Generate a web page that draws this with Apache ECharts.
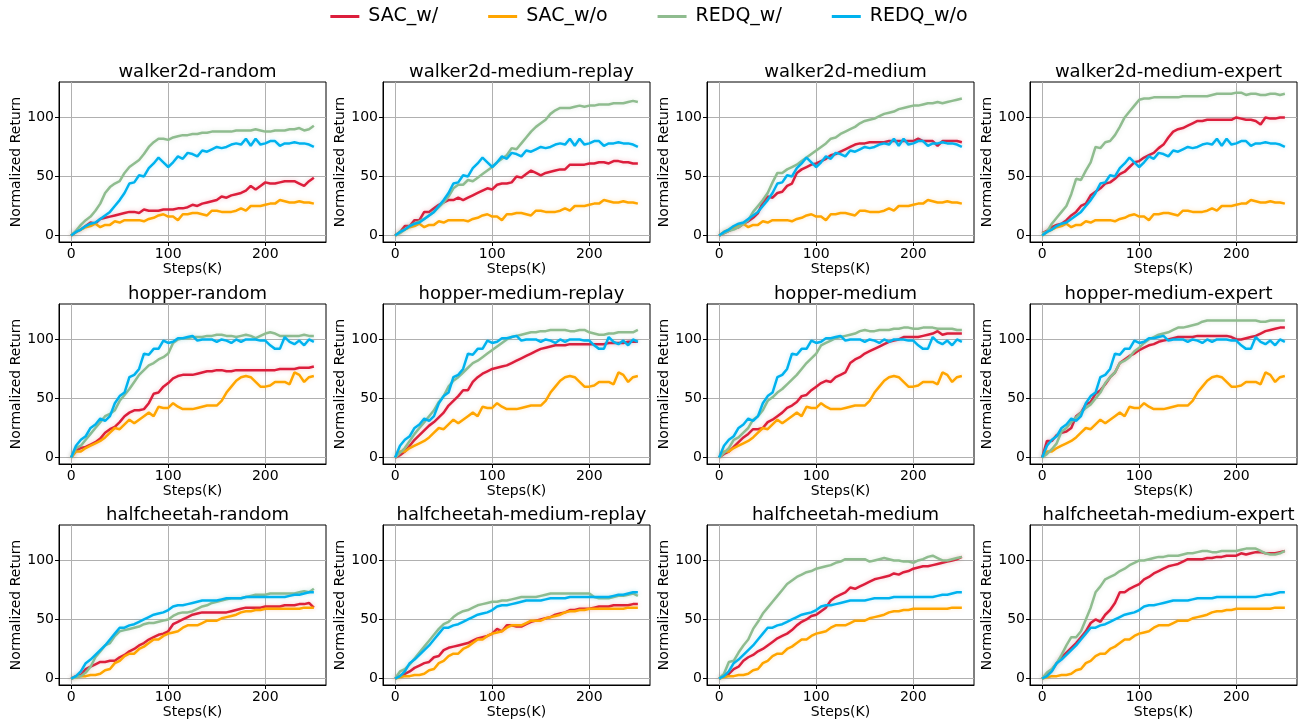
<!DOCTYPE html>
<html>
<head>
<meta charset="utf-8">
<script src="https://cdn.jsdelivr.net/npm/echarts@6/dist/echarts.min.js"></script>
<style>
html, body { margin: 0; background: #fff; }
#chart { width: 1298px; height: 724px; }
</style>
</head>
<body>
<div id="chart"></div>
<script>
// x positions in K steps
const steps = [0,5,10,15,20,25,30,35,40,45,50,55,60,65,70,75,80,85,90,95,100,105,110,115,120,125,130,135,140,145,150,155,160,165,170,175,180,185,190,195,200,205,210,215,220,225,230,235,240,245,250];

const seriesNames = ["SAC_w/", "SAC_w/o", "REDQ_w/", "REDQ_w/o"];
const panelTitles = [
    "walker2d-random", "walker2d-medium-replay", "walker2d-medium", "walker2d-medium-expert",
    "hopper-random", "hopper-medium-replay", "hopper-medium", "hopper-medium-expert",
    "halfcheetah-random", "halfcheetah-medium-replay", "halfcheetah-medium", "halfcheetah-medium-expert"
];
const xTicks = [0, 100, 200];
const yTicks = [0, 50, 100];

// runs without offline data are shared by every dataset of the same env
const walkerSACwo = [0,3,5,7,8,10,7,9,9,12,11,13,13,13,13,12,14,15,17,18,16,16,13,18,18,19,19,18,17,21,21,20,20,20,21,23,21,25,25,25,26,27,27,30,29,28,28,29,28,28,27];
const walkerREDQwo = [0,3,5,8,10,11,14,17,20,25,30,36,44,45,51,50,57,61,66,62,58,62,67,65,70,69,67,72,71,73,75,74,75,77,78,77,82,76,82,77,78,80,80,76,78,78,79,78,78,77,75];
const hopperSACwo = [0,5,5,8,10,12,14,17,21,25,24,28,32,29,32,35,38,35,43,42,42,46,43,41,41,41,42,43,44,44,44,48,55,60,65,68,69,68,64,60,60,61,64,64,64,62,72,70,64,68,69];
const hopperREDQwo = [0,10,15,18,25,28,33,31,35,46,52,55,68,70,75,88,87,92,92,99,97,98,101,101,102,103,99,100,100,100,98,100,99,97,100,98,100,100,100,99,99,95,92,92,102,98,96,99,95,100,98];
const cheetahSACwo = [0,1,2,2,3,3,4,7,8,13,15,19,21,21,25,27,30,33,33,36,38,39,40,43,45,45,45,47,49,49,49,51,52,53,54,56,57,57,58,58,59,59,59,59,59,59,59,59,60,60,60];
const cheetahREDQwo = [0,2,6,13,16,20,24,28,33,38,43,43,45,46,48,50,52,54,55,56,58,61,62,62,63,64,65,66,66,66,66,67,68,68,68,68,69,69,69,69,69,69,69,69,69,70,71,71,72,73,73];

// SAC_w/ per dataset
const walkerRandomSAC = [0,3,5,8,11,10,14,15,16,17,18,19,20,20,19,22,21,21,21,22,22,22,23,23,24,26,25,27,28,29,30,33,32,34,35,36,38,42,39,42,45,44,44,45,46,46,46,44,42,46,49];
const walkerReplaySAC = [0,3,8,8,13,13,20,20,23,26,28,30,30,32,30,32,34,36,38,40,39,43,44,44,45,50,49,52,55,53,51,53,54,55,56,56,60,60,60,60,61,61,62,62,61,63,63,62,62,61,61];
const walkerMediumSAC = [0,2,4,6,7,10,12,15,19,28,33,32,36,37,42,44,53,56,58,60,61,63,65,68,69,71,73,75,77,78,78,79,79,79,79,80,80,80,80,80,80,82,80,80,80,76,80,80,80,80,79];
const walkerExpertSAC = [2,4,7,9,10,13,17,20,25,27,34,37,40,44,45,48,52,54,58,62,63,66,68,70,74,77,83,88,90,91,93,95,97,97,98,98,98,98,98,98,100,99,98,98,97,94,100,99,99,100,100];
const hopperRandomSAC = [0,6,8,9,11,13,16,21,24,26,30,35,38,40,40,41,46,54,55,60,63,67,69,70,70,70,71,72,73,73,74,74,73,73,74,74,74,74,74,74,74,74,74,75,75,75,75,76,76,76,77];
const hopperReplaySAC = [0,2,5,10,15,19,23,27,30,34,38,44,48,52,57,57,64,68,71,73,75,76,77,78,80,82,84,86,88,90,92,93,94,95,95,95,96,96,96,96,96,96,96,96,97,97,97,97,98,98,98];
const hopperMediumSAC = [0,3,5,9,13,17,20,24,24,25,30,32,35,38,42,44,47,52,53,57,60,63,65,64,68,70,72,80,83,85,88,90,92,94,96,98,99,100,102,102,102,102,103,104,105,107,104,105,105,105,105];
const hopperExpertSAC = [0,14,14,19,21,22,25,35,38,45,47,54,57,62,68,72,80,83,86,88,91,93,95,96,98,99,100,101,102,102,102,102,103,103,103,103,103,103,103,102,100,100,101,102,103,105,107,108,109,110,110];
const cheetahRandomSAC = [0,2,3,8,10,12,14,14,15,15,18,20,23,25,28,30,33,35,37,38,40,46,48,50,52,54,55,56,56,56,56,56,56,57,58,59,60,60,60,60,61,61,61,61,62,62,62,63,63,64,60];
const cheetahReplaySAC = [0,2,4,6,9,11,13,14,18,19,24,26,27,28,29,30,32,34,35,36,38,42,40,45,45,44,44,46,48,49,50,51,52,54,55,56,58,58,59,59,59,60,61,61,61,62,62,62,62,63,63];
const cheetahMediumSAC = [0,2,4,8,10,15,18,20,23,25,28,31,34,36,38,41,45,48,50,53,54,57,60,66,69,71,73,77,76,78,80,82,84,85,86,87,89,88,90,91,93,94,95,95,96,97,98,99,100,101,103];
const cheetahExpertSAC = [0,3,7,13,18,22,26,30,35,40,47,50,48,54,58,64,73,73,76,78,80,84,86,89,91,93,95,96,97,99,101,101,101,101,102,102,103,103,104,104,104,106,105,106,107,107,106,106,106,107,108];

// REDQ_w/ per dataset
const walkerRandomREDQ = [0,4,9,13,16,21,27,36,41,44,46,53,58,61,64,69,75,79,82,82,81,83,84,85,85,86,86,87,87,88,88,88,88,88,89,89,89,89,90,89,88,88,89,89,89,90,90,91,89,90,93];
const walkerReplayREDQ = [0,2,5,8,10,12,14,17,20,24,28,33,40,43,43,47,46,49,52,55,58,62,65,68,74,73,78,83,88,92,95,98,103,106,108,108,108,109,110,109,110,110,111,111,111,112,112,112,113,114,113];
const walkerMediumREDQ = [0,2,4,5,7,10,13,20,25,30,36,45,53,53,56,58,60,63,66,69,72,75,78,82,83,86,88,90,92,95,97,98,99,101,103,104,105,107,108,109,110,110,111,112,112,113,112,113,114,115,116];
const walkerExpertREDQ = [2,3,10,15,20,25,35,48,47,55,62,75,74,79,80,85,92,100,105,110,115,116,116,117,117,117,117,117,117,118,118,118,118,118,118,119,120,120,120,120,121,121,119,120,120,119,119,120,120,119,120];
const hopperRandomREDQ = [0,8,10,15,20,25,30,35,37,40,48,53,58,64,70,74,78,80,83,85,88,97,100,101,101,102,102,102,103,103,104,104,103,103,102,103,104,103,101,103,105,106,105,103,103,103,103,103,104,103,103];
const hopperReplayREDQ = [0,4,8,14,20,25,30,35,40,47,52,60,65,68,72,76,80,82,85,88,91,94,97,100,102,103,104,105,106,106,107,107,108,108,108,108,107,107,108,108,106,105,104,104,105,105,106,106,106,106,108];
const hopperMediumREDQ = [0,4,8,15,17,21,25,32,35,40,48,51,55,58,62,66,70,75,80,84,88,95,97,99,101,102,103,104,105,107,108,107,107,108,108,108,109,109,110,110,109,109,110,110,110,109,109,109,109,108,108];
const hopperExpertREDQ = [0,3,7,12,22,25,30,34,38,42,45,50,55,63,68,72,80,82,85,90,93,97,100,102,104,105,106,108,110,110,111,112,113,115,116,116,116,116,116,116,116,116,116,116,116,115,115,116,116,116,116];
const cheetahRandomREDQ = [0,1,2,5,10,18,23,28,30,36,40,41,42,43,44,46,47,47,48,49,50,53,55,56,56,57,59,61,62,64,65,66,67,68,68,68,69,70,71,71,71,72,72,72,72,72,72,73,74,73,76];
const cheetahReplayREDQ = [0,6,8,12,17,22,27,32,37,42,46,48,52,55,57,58,60,62,63,64,65,65,66,66,67,68,69,69,69,69,70,71,72,72,72,72,72,72,72,72,72,69,68,68,68,69,70,70,71,72,70];
const cheetahMediumREDQ = [0,4,14,15,22,28,33,42,48,55,60,65,70,75,80,83,86,88,90,91,93,94,95,96,98,99,101,101,101,101,101,99,100,101,102,101,100,100,99,99,98,100,101,103,104,102,100,100,101,102,103];
const cheetahExpertREDQ = [0,5,8,13,20,28,35,35,40,50,60,73,78,84,86,88,91,93,96,98,100,100,101,102,103,103,104,104,104,105,106,106,107,108,108,107,107,108,108,108,108,109,110,110,110,108,106,105,105,106,108];

const panelData = [
    [walkerRandomSAC, walkerSACwo, walkerRandomREDQ, walkerREDQwo],
    [walkerReplaySAC, walkerSACwo, walkerReplayREDQ, walkerREDQwo],
    [walkerMediumSAC, walkerSACwo, walkerMediumREDQ, walkerREDQwo],
    [walkerExpertSAC, walkerSACwo, walkerExpertREDQ, walkerREDQwo],
    [hopperRandomSAC, hopperSACwo, hopperRandomREDQ, hopperREDQwo],
    [hopperReplaySAC, hopperSACwo, hopperReplayREDQ, hopperREDQwo],
    [hopperMediumSAC, hopperSACwo, hopperMediumREDQ, hopperREDQwo],
    [hopperExpertSAC, hopperSACwo, hopperExpertREDQ, hopperREDQwo],
    [cheetahRandomSAC, cheetahSACwo, cheetahRandomREDQ, cheetahREDQwo],
    [cheetahReplaySAC, cheetahSACwo, cheetahReplayREDQ, cheetahREDQwo],
    [cheetahMediumSAC, cheetahSACwo, cheetahMediumREDQ, cheetahREDQwo],
    [cheetahExpertSAC, cheetahSACwo, cheetahExpertREDQ, cheetahREDQwo]
];

const colors = ["#dc1e3c", "#ffa500", "#8fbc8f", "#00b2ee"];
const font = "DejaVu Sans";
const colLeft = [59, 383, 707, 1030];
const rowTop = [82, 304, 525];
const plotW = 267, plotH = 160;

let grids = [], xAxes = [], yAxes = [], titles = [], series = [];

for (let i = 0; i < 12; i++) {
    let left = colLeft[i % 4];
    let top = rowTop[Math.floor(i / 4)];
    grids.push({
        left: left, top: top, width: plotW, height: plotH,
        show: true, borderColor: "#000", borderWidth: 1, backgroundColor: "transparent"
    });
    titles.push({
        text: panelTitles[i],
        left: left + plotW / 2,
        top: top - 24,
        textAlign: "center",
        textStyle: { fontFamily: font, fontSize: 18, fontWeight: "normal", color: "#000" }
    });
    xAxes.push({
        gridIndex: i, type: "value", min: -12.5, max: 262.5,
        name: "Steps(K)", nameLocation: "middle", nameGap: 20,
        nameTextStyle: { fontFamily: font, fontSize: 14, color: "#000" },
        axisLine: { show: true, onZero: false, lineStyle: { color: "#000", width: 1 } },
        axisTick: { show: true, length: 4, customValues: xTicks, lineStyle: { color: "#000" } },
        axisLabel: { customValues: xTicks, fontFamily: font, fontSize: 14, color: "#000", margin: 5 },
        splitLine: { show: true, lineStyle: { color: "#b0b0b0", width: 1 } }
    });
    yAxes.push({
        gridIndex: i, type: "value", min: -5.5, max: 130,
        name: "Normalized Return", nameLocation: "middle", nameGap: 34,
        nameTextStyle: { fontFamily: font, fontSize: 14, color: "#000" },
        axisLine: { show: true, onZero: false, lineStyle: { color: "#000", width: 1 } },
        axisTick: { show: true, length: 4, customValues: yTicks, lineStyle: { color: "#000" } },
        axisLabel: { customValues: yTicks, fontFamily: font, fontSize: 14, color: "#000", margin: 5 },
        splitLine: { show: true, lineStyle: { color: "#b0b0b0", width: 1 } }
    });
    for (let s = 0; s < 4; s++) {
        series.push({
            name: seriesNames[s],
            type: "line",
            xAxisIndex: i, yAxisIndex: i,
            symbol: "none",
            animation: false,
            lineStyle: { color: colors[s], width: 2.5,
                shadowColor: colors[s] + "40", shadowBlur: 4 },
            itemStyle: { color: colors[s] },
            data: steps.map((x, k) => [x, panelData[i][s][k]])
        });
    }
}

const chart = echarts.init(document.getElementById("chart"));
chart.setOption({
    animation: false,
    backgroundColor: "#fff",
    color: colors,
    title: titles,
    legend: {
        top: 2, left: "center",
        data: seriesNames,
        icon: "rect",
        itemWidth: 29, itemHeight: 3, itemGap: 50,
        textStyle: { fontFamily: font, fontSize: 19, color: "#000", padding: [0, 0, 0, 4] }
    },
    grid: grids,
    xAxis: xAxes,
    yAxis: yAxes,
    series: series
});
</script>
</body>
</html>
